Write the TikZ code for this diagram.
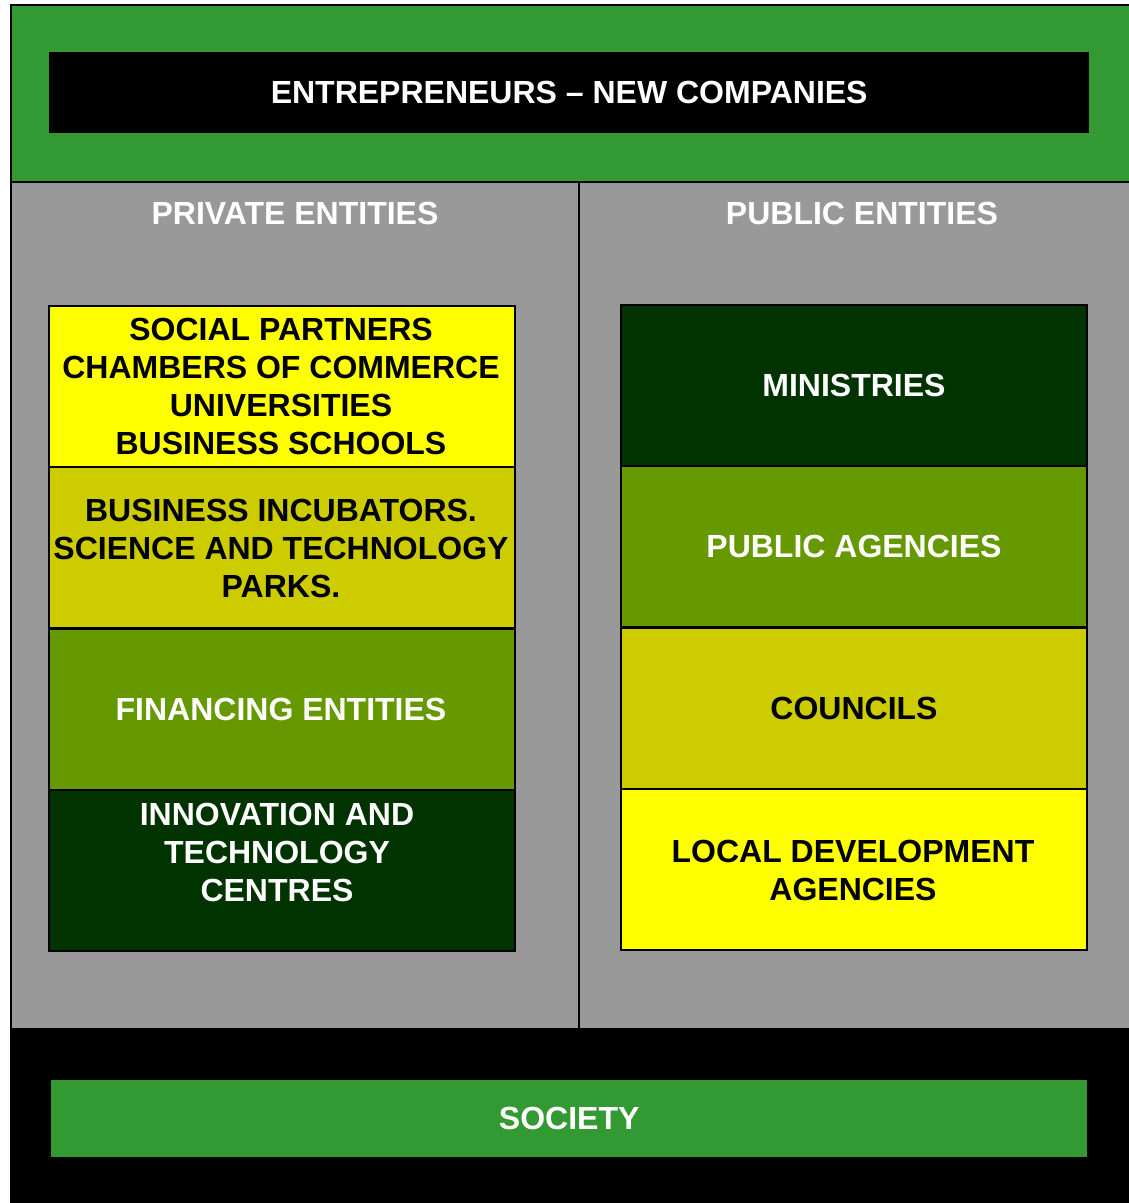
\documentclass[tikz,border=0pt]{standalone}
\usepackage{fontspec}
\setmainfont{Liberation Sans}
\definecolor{bandgreen}{HTML}{339933}
\definecolor{panelgrey}{HTML}{999999}
\definecolor{brightyellow}{HTML}{FFFF00}
\definecolor{oliveyellow}{HTML}{CCCC00}
\definecolor{leafgreen}{HTML}{669900}
\definecolor{darkgreen}{HTML}{003300}
\tikzset{
  lbl/.style={font=\fontsize{32}{38}\selectfont\bfseries, align=center, inner sep=0pt},
  stackbox/.style={draw=black, line width=2pt, minimum width=466pt, minimum height=161pt, inner sep=0pt, anchor=north west},
}
\begin{document}
\begin{tikzpicture}[x=1pt,y=-1pt]
\useasboundingbox (0,0) rectangle (1128,1203);
% background bands
\fill[white] (0,0) rectangle (1128,1203);
\filldraw[fill=bandgreen, draw=black, line width=1.5pt] (11,5) rectangle (1130,182);
\filldraw[fill=panelgrey, draw=black, line width=1.5pt] (11,182) rectangle (1130,1029);
\filldraw[fill=black, draw=black, line width=1.5pt] (11,1029) rectangle (1130,1205);
\draw[line width=2pt] (579,182) -- (579,1029);
% header and footer
\node[fill=black, minimum width=1040pt, minimum height=81pt, inner sep=0pt, anchor=north west] (top) at (49,52) {};
\node[lbl, text=white] at (top.center) {ENTREPRENEURS – NEW COMPANIES};
\node[fill=bandgreen, minimum width=1036pt, minimum height=77pt, inner sep=0pt, anchor=north west] (soc) at (51,1080) {};
\node[lbl, text=white] at (soc.center) {SOCIETY};
% column titles
\node[lbl, text=white] (priv) at (295,213) {PRIVATE ENTITIES};
\node[lbl, text=white] (pub) at (862,213) {PUBLIC ENTITIES};
% private stack
\node[stackbox, fill=brightyellow] (l1) at (48,305) {};
\node[stackbox, fill=oliveyellow] (l2) at (48,466) {};
\node[stackbox, fill=leafgreen] (l3) at (48,628) {};
\node[stackbox, fill=darkgreen] (l4) at (48,789) {};
\node[lbl] at (281,386) {SOCIAL PARTNERS\\CHAMBERS OF COMMERCE\\UNIVERSITIES\\BUSINESS SCHOOLS};
\node[lbl] at (281,548) {BUSINESS INCUBATORS.\\SCIENCE AND TECHNOLOGY\\PARKS.};
\node[lbl, text=white] at (281,709) {FINANCING ENTITIES};
\node[lbl, text=white] at (277,852) {INNOVATION AND\\TECHNOLOGY\\CENTRES};
% public stack
\node[stackbox, fill=darkgreen] (r1) at (620,304) {};
\node[stackbox, fill=leafgreen] (r2) at (620,465) {};
\node[stackbox, fill=oliveyellow] (r3) at (620,627) {};
\node[stackbox, fill=brightyellow] (r4) at (620,788) {};
\node[lbl, text=white] at (r1.center) {MINISTRIES};
\node[lbl, text=white] at (r2.center) {PUBLIC AGENCIES};
\node[lbl] at (r3.center) {COUNCILS};
\node[lbl] at (853,870) {LOCAL DEVELOPMENT\\AGENCIES};
\end{tikzpicture}
\end{document}
